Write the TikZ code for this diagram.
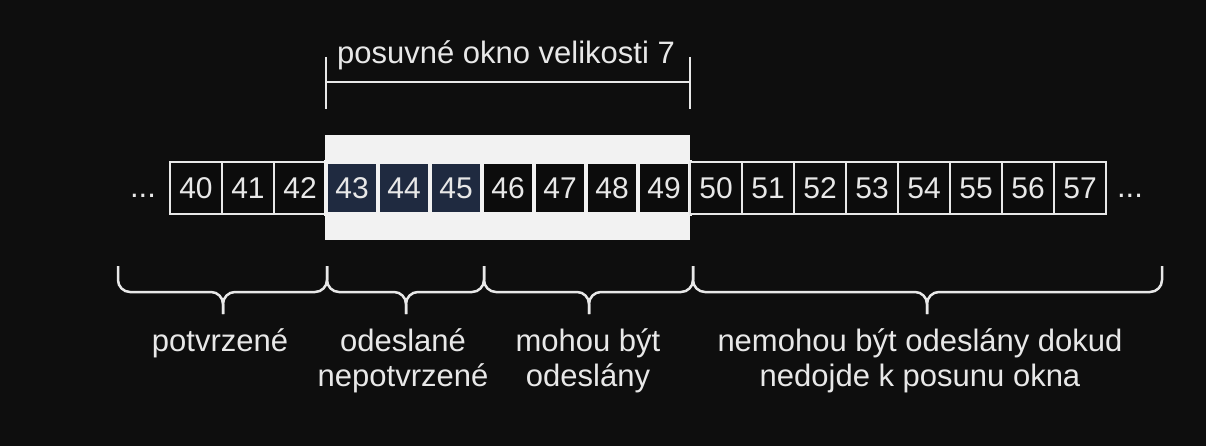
\documentclass[tikz,border=0pt]{standalone}
\usepackage{fontspec}
\setmainfont{Liberation Sans}
\usepackage{xcolor}
\usepackage{tikz}
\usetikzlibrary{
  positioning
}
\definecolor{bgdark}{RGB}{14,14,14}
\definecolor{fg}{RGB}{232,232,232}
\definecolor{winlight}{RGB}{242,242,242}
\definecolor{sentnavy}{RGB}{31,42,64}
\definecolor{celldark}{RGB}{12,12,12}

\begin{document}
\begin{tikzpicture}[
  x=1pt,y=-1pt,
  cell/.style={rectangle,draw=fg,fill=celldark,line width=2pt,minimum size=52pt,inner sep=0pt,text=fg,font=\fontsize{30}{34}\selectfont},
  inwin/.style={cell,draw=winlight,line width=4pt},
  sent/.style={inwin,fill=sentnavy},
  winbox/.style={rectangle,fill=winlight,minimum width=365pt,minimum height=105pt,inner sep=0pt},
  lbl/.style={text=fg,align=center,inner sep=0pt,font=\fontsize{31}{35}\selectfont},
  bar/.style={draw=fg,line width=2.5pt},
  br/.style={draw=fg,line width=2.5pt,rounded corners=12pt}
]
\fill[bgdark] (0,0) rectangle (1206,446);
\useasboundingbox (0,0) rectangle (1206,446);

\node[winbox] (window) at (507.5,187.5) {};

\node[lbl,anchor=base] (dotsl) at (143,198) {...};
\node[cell] (c40) at (196,188) {40};
\node[cell] (c41) at (248,188) {41};
\node[cell] (c42) at (300,188) {42};
\node[sent] (c43) at (352,188) {43};
\node[sent] (c44) at (404,188) {44};
\node[sent] (c45) at (456,188) {45};
\node[inwin] (c46) at (508,188) {46};
\node[inwin] (c47) at (560,188) {47};
\node[inwin] (c48) at (612,188) {48};
\node[inwin] (c49) at (664,188) {49};
\node[cell] (c50) at (716,188) {50};
\node[cell] (c51) at (768,188) {51};
\node[cell] (c52) at (820,188) {52};
\node[cell] (c53) at (872,188) {53};
\node[cell] (c54) at (924,188) {54};
\node[cell] (c55) at (976,188) {55};
\node[cell] (c56) at (1028,188) {56};
\node[cell] (c57) at (1080,188) {57};
\node[lbl,anchor=base] (dotsr) at (1130,198) {...};

% window size marker
\node[lbl,anchor=base] (title) at (506,64) {posuvné okno velikosti 7};
\draw[bar] (326,57) -- (326,109);
\draw[bar] (690,57) -- (690,109);
\draw[bar] (326,82) -- (690,82);

% braces
\coordinate (b0) at (118,266);
\coordinate (b1) at (327,266);
\coordinate (b2) at (484,266);
\coordinate (b3) at (693,266);
\coordinate (b4) at (1162,266);
\coordinate (m1) at (223,292);
\coordinate (m2) at (406,292);
\coordinate (m3) at (589,292);
\coordinate (m4) at (927,292);
\draw[br] (b0) |- (m1) -- ++(0,22);
\draw[br] (b1) |- (m1) -- ++(0,22);
\draw[br] (b1) |- (m2) -- ++(0,22);
\draw[br] (b2) |- (m2) -- ++(0,22);
\draw[br] (b2) |- (m3) -- ++(0,22);
\draw[br] (b3) |- (m3) -- ++(0,22);
\draw[br] (b3) |- (m4) -- ++(0,22);
\draw[br] (b4) |- (m4) -- ++(0,22);

\node[lbl,anchor=base] (acked) at (220,351) {potvrzené};
\node[lbl,anchor=base] (unacked) at (403,386) {odeslané\\nepotvrzené};
\node[lbl,anchor=base] (usable) at (588,386) {mohou být\\odeslány};
\node[lbl,anchor=base] (blocked) at (920,386) {nemohou být odeslány dokud\\nedojde k posunu okna};
\end{tikzpicture}
\end{document}
